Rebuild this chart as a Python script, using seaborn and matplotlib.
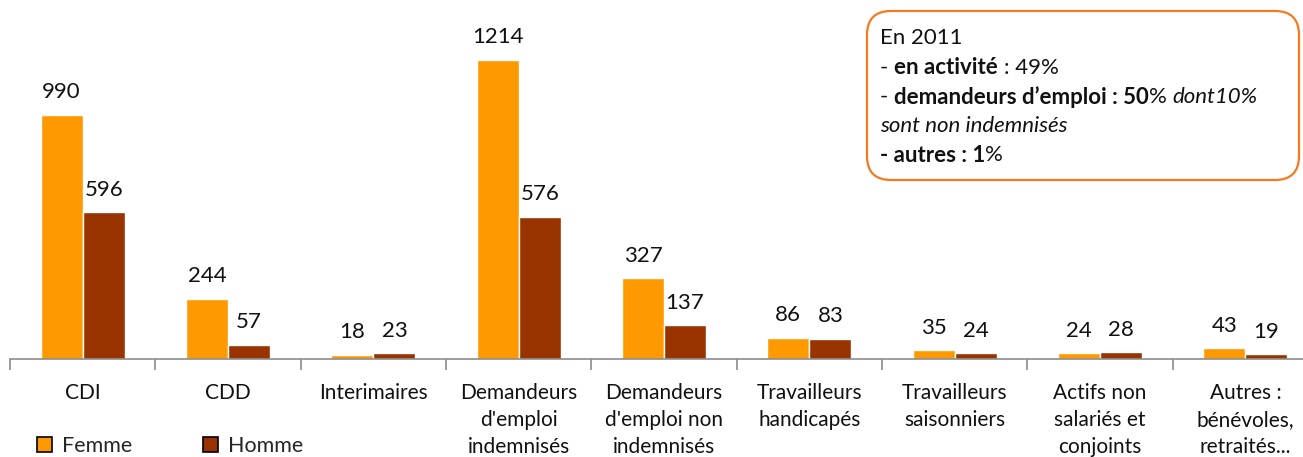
import matplotlib
matplotlib.use("Agg")
import matplotlib.pyplot as plt
from matplotlib.patches import FancyBboxPatch, Patch
from matplotlib.text import Annotation
import seaborn as sns
import pandas as pd

categories = ["CDI", "CDD", "Interimaires", "Demandeurs\nd'emploi\nindemnisés",
              "Demandeurs\nd'emploi non\nindemnisés", "Travailleurs\nhandicapés",
              "Travailleurs\nsaisonniers", "Actifs non\nsalariés et\nconjoints",
              "Autres :\nbénévoles,\nretraités..."]
femme = [990, 244, 18, 1214, 327, 86, 35, 24, 43]
homme = [596, 57, 23, 576, 137, 83, 24, 28, 19]
series = ["Femme", "Homme"]
colors = ["#FF9900", "#993300"]

df = pd.DataFrame({
    "cat": categories * 2,
    "val": femme + homme,
    "sexe": [series[0]] * len(categories) + [series[1]] * len(categories),
})

sns.set_theme(style="white")
plt.rcParams["font.family"] = ["Lato", "DejaVu Sans"]

W, H = 1303, 457
fig = plt.figure(figsize=(W / 100, H / 100), dpi=100)
ax = fig.add_axes([10 / W, (H - 359) / H, 1308 / W, 359 / H])

sns.barplot(data=df, x="cat", y="val", hue="sexe", palette=colors,
            width=0.58, ax=ax, saturation=1, legend=False)

for c in ax.containers:
    ax.bar_label(c, padding=9, fontsize=16, color="#111111")

ax.set_xlim(-0.5, len(categories) - 0.5)
ax.set_ylim(0, 1456)
ax.set_xlabel("")
ax.set_ylabel("")
ax.set_yticks([])
for s in ["top", "right", "left"]:
    ax.spines[s].set_visible(False)
ax.spines["bottom"].set_color("#8c8c8c")
ax.spines["bottom"].set_linewidth(1.2)
ax.set_xticks(range(len(categories)))
ax.set_xticklabels(categories, fontsize=15, color="#111111", linespacing=1.45, va="top")
ax.tick_params(axis="x", which="major", length=0, pad=17)
ax.set_xticks([i - 0.5 for i in range(len(categories) + 1)], minor=True)
ax.tick_params(axis="x", which="minor", length=8, color="#8c8c8c", width=1.2,
               direction="out", bottom=True)

handles = [Patch(facecolor=c, edgecolor="black", linewidth=1.2) for c in colors]
fig.legend(handles, series, loc="lower left", bbox_to_anchor=(18 / W, -18 / H),
           ncol=2, frameon=False, fontsize=15.5, handlelength=0.7, handleheight=0.7,
           handletextpad=0.45, columnspacing=3.3)

# annotation box
box = FancyBboxPatch((867, H - 180), 432, 169, boxstyle="round,pad=0,rounding_size=24",
                     transform=None, facecolor="white", edgecolor="#F57A1F", linewidth=1.6,
                     zorder=5)
fig.patches.append(box)

lines = [
    [("En 2011", "normal", "normal")],
    [("- ", "normal", "normal"), ("en activité", "bold", "normal"), (" : 49%", "normal", "normal")],
    [("- ", "normal", "normal"), ("demandeurs d’emploi : 50", "bold", "normal"),
     ("% ", "normal", "normal"), ("dont10%", "normal", "italic")],
    [("sont non indemnisés", "normal", "italic")],
    [("- autres : 1", "bold", "normal"), ("%", "normal", "normal")],
]
ys = [38, 68, 97, 126, 155]
fs = 16
for segs, yc in zip(lines, ys):
    prev = None
    pend_space = 0
    for txt, wt, st in segs:
        lead = len(txt) - len(txt.lstrip(" "))
        core = txt.strip(" ")
        trail = len(txt) - len(txt.rstrip(" "))
        if prev is None:
            prev = fig.text(880, H - yc, core, transform=None, fontsize=fs, fontweight=wt,
                            fontstyle=st, va="center", ha="left", color="#111111", zorder=6)
        else:
            prev = fig.add_artist(Annotation(
                core, xy=(1, 0.5), xycoords=prev, xytext=((pend_space + lead) * 4.3, 0),
                textcoords="offset points", fontsize=fs, fontweight=wt, fontstyle=st,
                va="center", ha="left", color="#111111", zorder=6))
        pend_space = trail

fig.savefig("out.png", dpi=100)
